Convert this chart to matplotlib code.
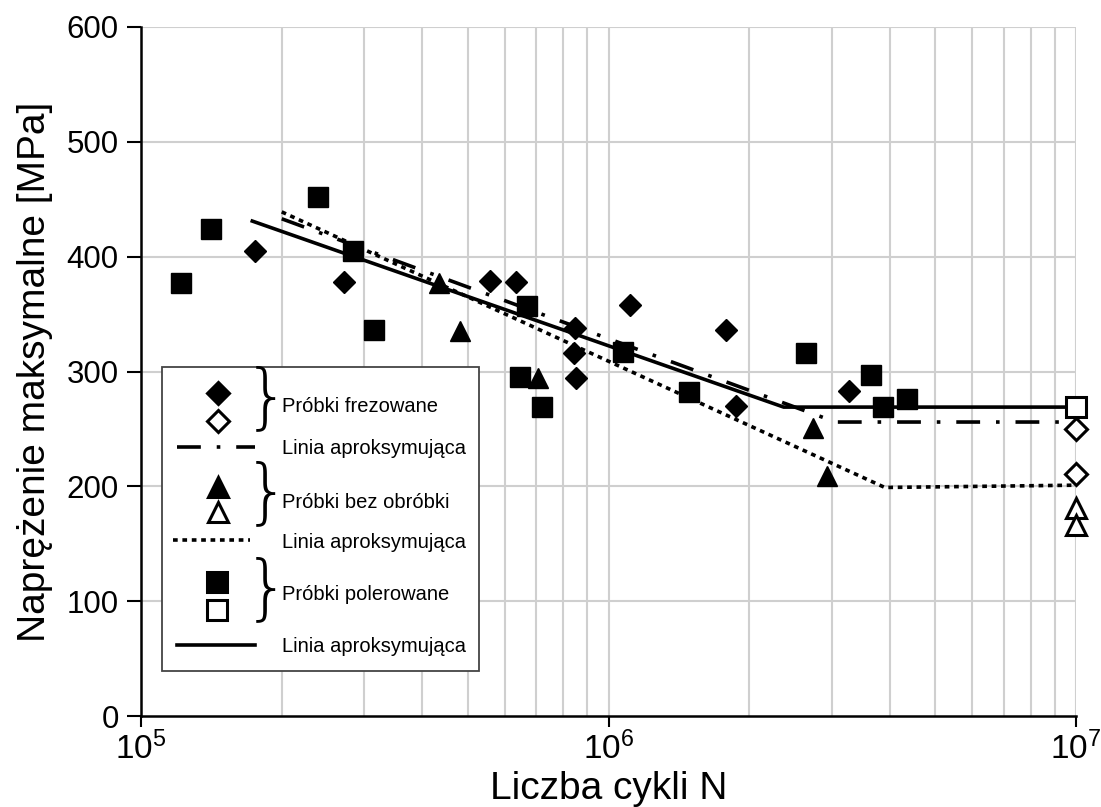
import math
import matplotlib
matplotlib.use("Agg")
import matplotlib.pyplot as plt
from matplotlib.lines import Line2D
from matplotlib.patches import Rectangle
from matplotlib.ticker import FixedLocator, FuncFormatter, NullFormatter

plt.rcParams['font.family'] = ['Liberation Sans', 'DejaVu Sans']
plt.rcParams['mathtext.fontset'] = 'custom'
plt.rcParams['mathtext.rm'] = 'Liberation Sans'
plt.rcParams['mathtext.it'] = 'Liberation Sans'

# ---- data ----
frez_x = [1.75e5, 2.72e5, 5.57e5, 6.33e5, 8.47e5, 8.44e5, 8.53e5, 1.114e6, 1.78e6, 1.87e6, 3.27e6]
frez_y = [405, 378, 379, 378, 338, 316, 294, 358, 336, 270, 283]
frez_open_x = [1e7, 1e7]
frez_open_y = [250, 211]

bez_x = [4.34e5, 4.82e5, 7.05e5, 2.74e6, 2.93e6]
bez_y = [377, 335, 294, 251, 209]
bez_open_x = [1e7, 1e7]
bez_open_y = [181, 166]

pol_x = [1.215e5, 1.41e5, 2.39e5, 2.84e5, 3.15e5, 6.47e5, 6.68e5, 7.19e5, 1.074e6,
         1.49e6, 2.65e6, 3.64e6, 3.87e6, 4.34e6]
pol_y = [377, 424, 452, 405, 336, 295, 357, 269, 317, 282, 316, 297, 269, 276]
pol_open_x = [1e7]
pol_open_y = [269]

fit_frez_x = [2.0e5, 3.06e6, 1e7]
fit_frez_y = [433, 256, 256]
fit_bez_x = [2.0e5, 3.9e6, 1e7]
fit_bez_y = [439, 199, 201]
fit_pol_x = [1.73e5, 2.37e6, 1e7]
fit_pol_y = [431, 269, 269]

y_ticks = [0, 100, 200, 300, 400, 500, 600]
x_major = [1e5, 1e6, 1e7]
x_minor = [m * 10 ** e for e in (5, 6) for m in range(2, 10)]

legend_labels = ["Próbki frezowane", "Linia aproksymująca",
                 "Próbki bez obróbki", "Linia aproksymująca",
                 "Próbki polerowane", "Linia aproksymująca"]

W, H = 1101, 807
fig = plt.figure(figsize=(W / 100, H / 100), dpi=100)
ax = fig.add_axes([141 / W, 1 - 716 / H, (1076 - 141) / W, (716 - 27) / H])
ax.set_xscale('log')
ax.set_xlim(1e5, 1e7)
ax.set_ylim(0, 600)

grid_c = '#cfcfcf'
for xv in x_minor + [1e6, 1e7]:
    ax.axvline(xv, color=grid_c, lw=1.5, zorder=0)
for yv in y_ticks[1:]:
    ax.axhline(yv, color=grid_c, lw=1.5, zorder=0)

ax.xaxis.set_major_locator(FixedLocator(x_major))
ax.xaxis.set_minor_locator(FixedLocator(x_minor))
ax.xaxis.set_minor_formatter(NullFormatter())
ax.xaxis.set_major_formatter(FuncFormatter(lambda v, p: r'$\mathregular{10^{%d}}$' % round(math.log10(v))))
ax.set_yticks(y_ticks)
ax.tick_params(axis='x', which='major', direction='out', length=8, width=1.5, labelsize=24, pad=3)
ax.tick_params(axis='x', which='minor', length=0)
ax.tick_params(axis='y', direction='out', length=10, width=1.5, labelsize=22.5, pad=6)
for s in ('top', 'right'):
    ax.spines[s].set_visible(False)
for s in ('left', 'bottom'):
    ax.spines[s].set_linewidth(1.8)
    ax.spines[s].set_zorder(5)

ax.set_xlabel('Liczba cykli N', fontsize=28, labelpad=4)
ax.set_ylabel('Naprężenie maksymalne [MPa]', fontsize=28, labelpad=10)

lw = 2.6
dashdot = (0, (6.6, 4.4, 1.0, 4.4))
dotted = (0, (1.3, 1.3))

ax.plot(fit_pol_x, fit_pol_y, color='black', lw=lw, solid_joinstyle='miter', zorder=3)
ax.plot(fit_frez_x, fit_frez_y, color='black', lw=lw, linestyle=dashdot, dash_capstyle='butt', zorder=3)
ax.plot(fit_bez_x, fit_bez_y, color='black', lw=lw, linestyle=dotted, dash_capstyle='butt', zorder=3)

ms_sq = 14.5
ms_d = 11
ms_t = 14.5
ax.plot(frez_x, frez_y, 'D', color='black', ms=ms_d, ls='none', zorder=4)
ax.plot(bez_x, bez_y, '^', color='black', ms=ms_t, ls='none', zorder=4)
ax.plot(pol_x, pol_y, 's', color='black', ms=ms_sq, ls='none', zorder=4)
ax.plot(frez_open_x, frez_open_y, 'D', mfc='white', mec='black', mew=2.2, ms=ms_d, ls='none', zorder=4, clip_on=False)
ax.plot(bez_open_x, bez_open_y, '^', mfc='white', mec='black', mew=2.2, ms=ms_t, ls='none', zorder=4, clip_on=False)
ax.plot(pol_open_x, pol_open_y, 's', mfc='white', mec='black', mew=2.2, ms=ms_sq, ls='none', zorder=6, clip_on=False)

# ---- legend (manual, in figure pixel coordinates) ----
def P(x, y):
    return x / W, 1 - y / H

tf = fig.transFigure
x0, y0 = P(162, 671)
x1, y1 = P(479, 367)
fig.add_artist(Rectangle((x0, y0), x1 - x0, y1 - y0, transform=tf, facecolor='white',
                         edgecolor='#444444', lw=1.3, zorder=10))

def lm(x, y, marker, ms, filled):
    fx, fy = P(x, y)
    fig.add_artist(Line2D([fx], [fy], marker=marker, ms=ms, mec='black',
                          mfc='black' if filled else 'white',
                          mew=2.2, ls='none', transform=tf, zorder=11))

def ll(xa, xb, y, style):
    fa, fy = P(xa, y)
    fb, _ = P(xb, y)
    fig.add_artist(Line2D([fa, fb], [fy, fy], color='black', lw=lw,
                          linestyle=style, dash_capstyle='butt',
                          transform=tf, zorder=11))

def lt(x, y, s):
    fx, fy = P(x, y)
    fig.text(fx, fy, s, fontsize=14.5, ha='left', va='center', zorder=12)

def brace(x, y):
    fx, fy = P(x, y)
    fig.text(fx, fy, '}', fontsize=52, ha='center', va='center', zorder=12,
             family='DejaVu Sans', fontweight='light')

lm(218, 393, 'D', ms_d, True)
lm(218, 421, 'D', ms_d, False)
brace(267, 400)
lt(282, 407, legend_labels[0])
ll(177, 255, 447, dashdot)
lt(282, 448, legend_labels[1])

lm(218, 487, '^', ms_t, True)
lm(218, 512, '^', ms_t, False)
brace(267, 495)
lt(282, 502, legend_labels[2])
ll(173, 250, 540, dotted)
lt(282, 543, legend_labels[3])

lm(217, 582, 's', ms_sq, True)
lm(217, 610, 's', ms_sq, False)
brace(267, 591)
lt(282, 595, legend_labels[4])
ll(177, 255, 645, '-')
lt(282, 647, legend_labels[5])

fig.savefig('out.png', dpi=100)
